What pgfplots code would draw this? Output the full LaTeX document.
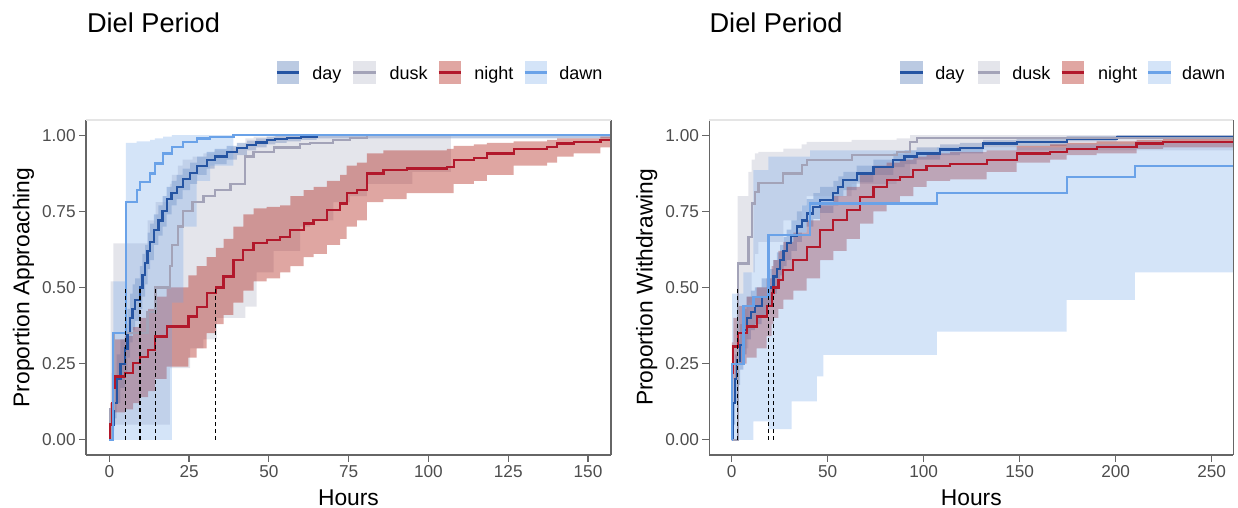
\documentclass[border=0pt]{standalone}
\usepackage{fontspec}
\setmainfont{Liberation Sans}
\usepackage{pgfplots}
\usepackage{pgfplotstable}
\pgfplotsset{compat=1.18}

\definecolor{dayL}{RGB}{37,84,162}
\definecolor{dayF}{RGB}{30,80,160}
\definecolor{duskL}{RGB}{163,163,184}
\definecolor{duskF}{RGB}{166,168,190}
\definecolor{nightL}{RGB}{178,24,43}
\definecolor{nightF}{RGB}{170,20,10}
\definecolor{dawnL}{RGB}{106,162,232}
\definecolor{dawnF}{RGB}{112,165,233}
\definecolor{dayK}{RGB}{187,202,226}
\definecolor{duskK}{RGB}{228,229,235}
\definecolor{nightK}{RGB}{224,166,162}
\definecolor{dawnK}{RGB}{212,228,248}
\definecolor{tickgray}{RGB}{77,77,77}

% ---------- left panel (approaching) ----------
\pgfplotstableread{
x lo est hi
0 0 0 0
0.74 0.03 0.05 0.08
1.5 0.07 0.12 0.18
2.3 0.12 0.20 0.28
3.5 0.17 0.25 0.33
4.9 0.22 0.30 0.38
5.7 0.27 0.35 0.43
6.5 0.32 0.40 0.48
7.3 0.36 0.43 0.51
8.1 0.39 0.46 0.53
9.6 0.43 0.50 0.57
10.4 0.47 0.54 0.61
11.2 0.51 0.58 0.64
12.0 0.56 0.62 0.68
12.8 0.59 0.65 0.71
14.0 0.64 0.69 0.74
15.4 0.67 0.72 0.77
16.7 0.70 0.75 0.80
18.0 0.74 0.79 0.83
19.5 0.77 0.81 0.85
21.1 0.79 0.83 0.87
23.0 0.82 0.855 0.89
25.3 0.84 0.875 0.91
27.5 0.87 0.90 0.93
30.5 0.89 0.918 0.945
33.0 0.905 0.93 0.955
36.8 0.92 0.945 0.965
40.0 0.935 0.957 0.975
43.1 0.95 0.967 0.982
46.0 0.96 0.976 0.99
49.3 0.97 0.984 0.995
52.0 0.975 0.987 0.998
55.6 0.98 0.99 1.0
60.0 0.985 0.995 1.0
65.0 0.99 1.0 1.0
160 0.99 1.0 1.0
}\Lday

\pgfplotstableread{
x lo est hi
0 0 0 0
0.4 0 0.10 0.52
1.3 0.05 0.35 0.645
12.0 0.05 0.42 0.72
14.5 0.05 0.50 0.78
19.0 0.235 0.57 0.84
19.6 0.235 0.64 0.87
21.5 0.235 0.70 0.90
23.0 0.235 0.75 0.92
25.3 0.30 0.75 0.92
26.1 0.30 0.78 0.93
29.5 0.33 0.80 0.94
33.0 0.33 0.82 0.95
33.7 0.40 0.82 0.95
38.0 0.40 0.84 0.96
42.6 0.437 0.93 0.99
45.2 0.437 0.945 0.995
46.2 0.55 0.945 0.995
51.5 0.62 0.96 1.0
59.8 0.70 0.97 1.0
62.9 0.72 0.975 1.0
70.2 0.78 0.985 1.0
75.4 0.80 0.99 1.0
80.7 0.84 1.0 1.0
95.0 0.88 1.0 1.0
107.0 0.93 1.0 1.0
}\Ldusk

\pgfplotstableread{
x lo est hi
0 0 0 0
0.3 0 0.05 0.12
0.8 0.02 0.12 0.22
1.2 0.05 0.17 0.28
1.8 0.09 0.208 0.33
4.9 0.10 0.218 0.34
7.5 0.12 0.251 0.37
9.6 0.14 0.273 0.40
12.2 0.16 0.295 0.43
14.3 0.20 0.339 0.47
18.0 0.24 0.372 0.50
24.8 0.27 0.405 0.54
27.4 0.30 0.437 0.57
30.5 0.35 0.481 0.60
33.4 0.38 0.50 0.63
35.8 0.41 0.536 0.66
38.9 0.45 0.59 0.70
42.0 0.49 0.623 0.74
45.2 0.52 0.645 0.76
49.3 0.53 0.656 0.765
53.5 0.55 0.667 0.77
56.7 0.57 0.689 0.80
60.9 0.60 0.71 0.82
64.0 0.61 0.721 0.83
68.2 0.64 0.754 0.85
72.3 0.66 0.776 0.87
74.4 0.70 0.809 0.90
77.6 0.72 0.82 0.91
80.7 0.78 0.874 0.94
85.9 0.79 0.885 0.95
93.2 0.81 0.891 0.95
105.8 0.81 0.896 0.955
107.9 0.84 0.918 0.965
114.2 0.85 0.924 0.97
118.3 0.87 0.94 0.975
126.7 0.90 0.956 0.98
137.2 0.91 0.962 0.985
140.3 0.93 0.973 0.99
145.5 0.94 0.978 0.99
153.9 0.96 0.984 0.995
160 0.96 0.984 0.995
}\Lnight

\pgfplotstableread{
x lo est hi
0 0 0 0
1.26 0 0.35 0.52
5.2 0 0.78 0.975
8.6 0 0.82 0.98
9.6 0 0.847 0.98
12.8 0 0.874 0.985
14.3 0 0.907 0.99
16.9 0 0.94 0.995
19.6 0.45 0.962 1.0
23.2 0.70 0.978 1.0
27.4 0.85 0.989 1.0
31.6 0.90 0.994 1.0
38.9 1.0 1.0 1.0
160 1.0 1.0 1.0
}\Ldawn

% ---------- right panel (withdrawing) ----------
\pgfplotstableread{
x lo est hi
0 0 0 0
0.85 0.05 0.12 0.20
1.7 0.12 0.20 0.28
3.0 0.18 0.26 0.33
4.3 0.23 0.31 0.38
6.0 0.28 0.36 0.43
7.8 0.33 0.40 0.47
10.0 0.36 0.42 0.49
12.1 0.38 0.438 0.50
15.6 0.41 0.47 0.53
19.1 0.44 0.50 0.56
21.7 0.48 0.536 0.59
23.5 0.51 0.56 0.615
25.2 0.54 0.59 0.64
27.0 0.57 0.62 0.665
28.6 0.59 0.645 0.69
31.0 0.62 0.67 0.72
33.9 0.65 0.70 0.75
36.5 0.68 0.72 0.77
39.0 0.70 0.743 0.79
42.5 0.725 0.765 0.81
46.0 0.745 0.787 0.83
52.9 0.77 0.81 0.85
55.5 0.80 0.83 0.865
58.1 0.82 0.852 0.88
65.1 0.845 0.874 0.90
73.8 0.87 0.896 0.92
84.2 0.895 0.918 0.94
90.0 0.905 0.93 0.95
96.3 0.92 0.94 0.96
108.5 0.935 0.953 0.97
118.9 0.94 0.958 0.975
131.0 0.96 0.973 0.985
148.4 0.965 0.978 0.99
174.5 0.98 0.989 0.997
200.5 0.987 0.994 1.0
262 0.987 0.994 1.0
}\Rday

\pgfplotstableread{
x lo est hi
0 0 0 0
3.1 0.30 0.579 0.80
8.7 0.45 0.667 0.88
10.4 0.55 0.776 0.92
12.1 0.61 0.814 0.94
13.9 0.65 0.842 0.945
26.9 0.72 0.874 0.956
36.4 0.77 0.902 0.97
39.0 0.80 0.918 0.978
62.5 0.84 0.935 0.985
85.9 0.86 0.946 0.99
92.9 0.93 0.978 1.0
96.3 0.95 0.99 1.0
262 0.95 0.99 1.0
}\Rdusk

\pgfplotstableread{
x lo est hi
0 0 0 0
0.1 0.12 0.22 0.32
0.85 0.20 0.306 0.40
3.4 0.25 0.35 0.44
7.8 0.27 0.372 0.47
13.0 0.30 0.405 0.50
18.2 0.34 0.438 0.53
20.8 0.38 0.481 0.57
21.7 0.40 0.50 0.59
24.3 0.43 0.525 0.62
26.9 0.46 0.558 0.65
32.1 0.49 0.59 0.68
39.0 0.53 0.634 0.72
46.0 0.59 0.689 0.77
52.9 0.62 0.721 0.80
59.9 0.66 0.754 0.83
66.8 0.71 0.798 0.87
73.8 0.75 0.831 0.90
80.7 0.78 0.852 0.91
87.6 0.80 0.863 0.92
94.6 0.83 0.885 0.93
101.5 0.85 0.90 0.94
113.7 0.855 0.905 0.945
132.8 0.88 0.918 0.95
148.4 0.91 0.94 0.965
165.8 0.92 0.945 0.97
174.5 0.935 0.956 0.975
190.1 0.94 0.962 0.98
210.9 0.955 0.973 0.985
224.8 0.96 0.978 0.99
262 0.96 0.978 0.99
}\Rnight

\pgfplotstableread{
x lo est hi
0 0 0 0
0.2 0 0.249 0.48
6.1 0 0.438 0.55
11.3 0.06 0.47 0.885
19.1 0.035 0.672 0.93
31.2 0.126 0.672 0.93
40.8 0.126 0.776 0.95
44.3 0.208 0.776 0.95
47.7 0.279 0.776 0.95
106.8 0.355 0.809 0.96
174.5 0.459 0.863 0.97
210.0 0.55 0.90 0.98
262 0.55 0.90 0.98
}\Rdawn

% step-shaped ribbon polygon built from a table's x, lo and hi columns
\newcommand\ribbon[3]{% table, colour, opacity
  \pgfplotstablegetrowsof{#1}%
  \pgfmathtruncatemacro\nr{\pgfplotsretval-1}%
  \gdef\ribpts{}%
  \gdef\prevv{}%
  \pgfplotsforeachungrouped \i in {0,...,\nr}{%
    \pgfplotstablegetelem{\i}{x}\of{#1}\let\cx\pgfplotsretval
    \pgfplotstablegetelem{\i}{hi}\of{#1}\let\cv\pgfplotsretval
    \ifx\prevv\empty\else \xdef\ribpts{\ribpts (\cx,\prevv)}\fi
    \xdef\ribpts{\ribpts (\cx,\cv)}%
    \global\let\prevv\cv
  }%
  \pgfplotsforeachungrouped \k in {0,...,\nr}{%
    \pgfmathtruncatemacro\j{\nr-\k}%
    \pgfplotstablegetelem{\j}{x}\of{#1}\let\cx\pgfplotsretval
    \pgfplotstablegetelem{\j}{lo}\of{#1}\let\cv\pgfplotsretval
    \xdef\ribpts{\ribpts (\cx,\cv)}%
    \ifnum\j>0
      \pgfmathtruncatemacro\jj{\j-1}%
      \pgfplotstablegetelem{\jj}{lo}\of{#1}\let\pv\pgfplotsretval
      \xdef\ribpts{\ribpts (\cx,\pv)}%
    \fi
  }%
  \edef\temp{\noexpand\addplot[fill=#2, fill opacity=#3, draw=none, forget plot] coordinates {\ribpts};}%
  \temp
}
\newcommand\kmline[2]{%
  \addplot[const plot, color=#2, line width=1.1pt, forget plot] table[x=x,y=est]{#1};
}

\pgfplotsset{
  panel/.style={
    scale only axis, height=167.5pt,
    ymin=-0.05, ymax=1.05,
    ytick={0,0.25,0.5,0.75,1}, yticklabels={0.00,0.25,0.50,0.75,1.00},
    axis x line*=bottom, axis y line*=left,
    axis line style={draw=black!60, line width=0.6pt},
    tick style={draw=black!60, line width=0.6pt},
    tick align=outside, major tick length=3.5pt,
    /pgf/number format/assume math mode=true,
    ticklabel style={font=\fontsize{8.6}{10}\selectfont, text=tickgray, inner sep=1.5pt},
    xlabel={Hours},
    every axis x label/.style={at={(axis description cs:0.5,0)}, anchor=base, yshift=-25.5pt, font=\fontsize{11.4}{13}\selectfont},
    every axis y label/.style={at={(axis description cs:-0.108,0.5)}, anchor=base, rotate=90, font=\fontsize{11.4}{13}\selectfont},
  },
}

\newcommand\legendrow[8]{% keyx1..4, textx1..4
  \foreach \kx/\tx/\kc/\lc/\lab in {#1/#5/dayK/dayL/day, #2/#6/duskK/duskL/dusk, #3/#7/nightK/nightL/night, #4/#8/dawnK/dawnL/dawn}{
    \fill[\kc] (\kx pt,212pt) rectangle ++(11.25pt,11.5pt);
    \draw[\lc, line width=1.1pt] (\kx pt,217.75pt) -- ++(11.25pt,0);
    \node[anchor=base west, inner sep=0pt, font=\fontsize{9}{10}\selectfont] at (\tx pt,214.25pt) {\lab};
  }
}

\begin{document}
\begin{tikzpicture}
\path[use as bounding box] (0,0) rectangle (619pt,254pt);

\begin{axis}[panel, name=LA, at={(43pt,26.5pt)}, anchor=south west, width=262.5pt,
  xmin=-7.3, xmax=157.2, xtick={0,25,50,75,100,125,150},
  ylabel={Proportion Approaching}]
  \ribbon{\Lday}{dayF}{0.3}
  \ribbon{\Ldusk}{duskF}{0.3}
  \ribbon{\Lnight}{nightF}{0.38}
  \ribbon{\Ldawn}{dawnF}{0.3}
  \kmline{\Lday}{dayL}
  \kmline{\Ldusk}{duskL}
  \kmline{\Lnight}{nightL}
  \kmline{\Ldawn}{dawnL}
  \addplot[black, line width=0.6pt, dash pattern=on 2pt off 1.5pt] coordinates {(5.2,0) (5.2,0.5)};
  \addplot[black, line width=0.6pt, dash pattern=on 2pt off 1.5pt] coordinates {(9.6,0) (9.6,0.5)};
  \addplot[black, line width=0.6pt, dash pattern=on 2pt off 1.5pt] coordinates {(14.5,0) (14.5,0.5)};
  \addplot[black, line width=0.6pt, dash pattern=on 2pt off 1.5pt] coordinates {(33.4,0) (33.4,0.5)};
\end{axis}
\draw[black!60, line width=0.6pt] (LA.south east) -- (LA.north east);
\draw[black!10, line width=0.6pt] (LA.north west) -- (LA.north east);

\begin{axis}[panel, name=RA, at={(354.65pt,26.5pt)}, anchor=south west, width=262pt,
  xmin=-11.7, xmax=261.3, xtick={0,50,100,150,200,250},
  ylabel={Proportion Withdrawing}]
  \ribbon{\Rday}{dayF}{0.3}
  \ribbon{\Rdusk}{duskF}{0.3}
  \ribbon{\Rnight}{nightF}{0.38}
  \ribbon{\Rdawn}{dawnF}{0.3}
  \kmline{\Rday}{dayL}
  \kmline{\Rdusk}{duskL}
  \kmline{\Rnight}{nightL}
  \kmline{\Rdawn}{dawnL}
  \addplot[black, line width=0.6pt, dash pattern=on 2pt off 1.5pt] coordinates {(3.1,0) (3.1,0.5)};
  \addplot[black, line width=0.6pt, dash pattern=on 2pt off 1.5pt] coordinates {(19.1,0) (19.1,0.5)};
  \addplot[black, line width=0.6pt, dash pattern=on 2pt off 1.5pt] coordinates {(21.7,0) (21.7,0.5)};
\end{axis}
\draw[black!60, line width=0.6pt] (RA.south east) -- (RA.north east);
\draw[black!10, line width=0.6pt] (RA.north west) -- (RA.north east);

% titles
\node[anchor=base west, inner sep=0pt, font=\fontsize{13.6}{16}\selectfont] at (43.3pt,237.5pt) {Diel Period};
\node[anchor=base west, inner sep=0pt, font=\fontsize{13.6}{16}\selectfont] at (354.6pt,237.5pt) {Diel Period};

% legends
\legendrow{138.4}{176.7}{219.35}{262.25}{156}{194.6}{237}{279.5}
\legendrow{450}{488.75}{530.75}{574}{467.5}{506}{548.85}{590.85}
\end{tikzpicture}
\end{document}
